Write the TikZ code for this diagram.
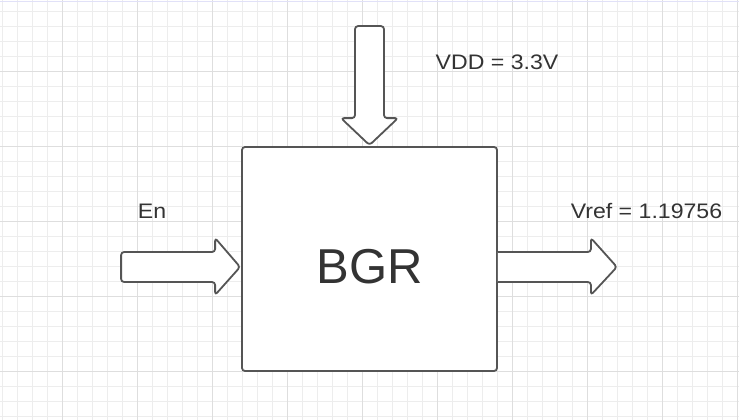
\documentclass[tikz,border=0pt]{standalone}
\usepackage{fontspec}
\setmainfont{Liberation Sans}
\newfontfamily\labelfont[FakeStretch=1.1]{Liberation Sans}
\usetikzlibrary{calc}

\definecolor{gridminor}{HTML}{EDEDED}
\definecolor{gridmajor}{HTML}{DEDEDE}
\definecolor{strokegray}{HTML}{555555}
\definecolor{textgray}{HTML}{333333}

\begin{document}
\begin{tikzpicture}[
  x=1pt, y=-1pt,
  box/.style={draw=strokegray, line width=1.8pt, rounded corners=3pt, fill=white, minimum width=255pt, minimum height=224pt, inner sep=0pt},
  blockarrow/.style={draw=strokegray, line width=1.8pt, fill=white, rounded corners=3pt, line join=round},
  label/.style={text=textgray, inner sep=0pt, font=\labelfont\fontsize{21}{25}\selectfont},
  title/.style={text=textgray, inner sep=0pt, font=\fontsize{49}{58}\selectfont}]

% background and grid
\fill[white] (0,0) rectangle (739,420);
\useasboundingbox (0,0) rectangle (739,420);
\foreach \gx in {2.3,17.3,...,739} \draw[gridminor, line width=0.8pt] (\gx,0) -- (\gx,420);
\foreach \gy in {11.7,26.7,...,420} \draw[gridminor, line width=0.8pt] (0,\gy) -- (739,\gy);
\foreach \gx in {62.3,137.3,...,739} \draw[gridmajor, line width=0.8pt] (\gx,0) -- (\gx,420);
\foreach \gy in {71.7,146.7,...,420} \draw[gridmajor, line width=0.8pt] (0,\gy) -- (739,\gy);
\draw[gridmajor!70!blue!30, line width=0.8pt] (0,1.7) -- (739,1.7);

% block
\node[box] (bgr) at (369.5,259) {};
\node[title] (bgrname) at (369.5,266.5) {BGR};

% supply arrow (top)
\coordinate (vddtip) at (bgr.north);
\draw[blockarrow] ($(vddtip)+(-14.5,-120)$) -- ($(vddtip)+(14.5,-120)$) -- ($(vddtip)+(14.5,-28)$)
  -- ($(vddtip)+(28.5,-28)$) -- ($(vddtip)+(0,-1)$) -- ($(vddtip)+(-28.5,-28)$)
  -- ($(vddtip)+(-14.5,-28)$) -- cycle;
\node[label] (vdd) at (497,62) {VDD = 3.3V};

% enable arrow (left)
\coordinate (entip) at (bgr.west |- 0,267);
\draw[blockarrow] ($(entip)+(-120,-15)$) -- ($(entip)+(-26,-15)$) -- ($(entip)+(-26,-29)$)
  -- ($(entip)+(-1,0)$) -- ($(entip)+(-26,28)$) -- ($(entip)+(-26,15)$)
  -- ($(entip)+(-120,15)$) -- cycle;
\node[label] (en) at (152,211) {En};

% reference output arrow (right)
\coordinate (vrefbase) at (bgr.east |- 0,267);
\draw[blockarrow] ($(vrefbase)+(0,-15)$) -- ($(vrefbase)+(93,-15)$) -- ($(vrefbase)+(93,-29)$)
  -- ($(vrefbase)+(119,0)$) -- ($(vrefbase)+(93,28)$) -- ($(vrefbase)+(93,15)$)
  -- ($(vrefbase)+(0,15)$);
\node[label] (vref) at (646.5,211.5) {Vref = 1.19756};
\end{tikzpicture}
\end{document}
